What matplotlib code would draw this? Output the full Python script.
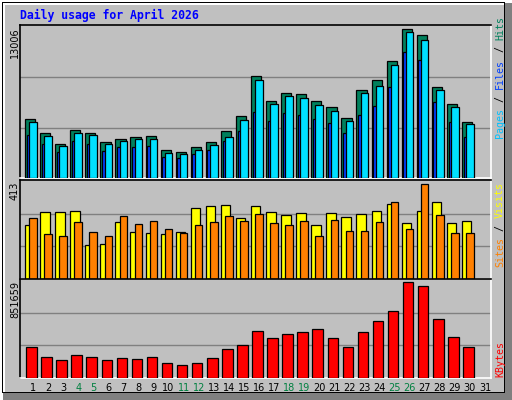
import matplotlib
matplotlib.use("Agg")
import matplotlib.pyplot as plt
from matplotlib.patches import Rectangle

days = list(range(1, 31))
hits = [5058, 3844, 2890, 4104, 3844, 3063, 3324, 3497, 3584, 2370, 2196, 2630, 3063, 4017, 5318,
        8786, 6618, 7312, 7225, 6618, 6098, 5144, 7572, 8439, 10086, 12774, 12254, 7832, 6358, 4797]
files = [4797, 3584, 2717, 3844, 3670, 2890, 3150, 3324, 3324, 2110, 2023, 2370, 2803, 3497, 4971,
         8439, 6358, 7052, 6878, 6271, 5751, 4884, 7312, 7919, 9739, 12514, 11820, 7572, 6098, 4624]
pages = [3670, 2890, 2196, 3150, 2890, 2283, 2630, 2630, 2717, 1763, 1676, 2023, 2370, 3150, 4017,
         5664, 4884, 5578, 5404, 5058, 4711, 3844, 5404, 6185, 7832, 10780, 10173, 6531, 4797, 3497]
visits = [227, 284, 284, 288, 145, 149, 241, 197, 193, 188, 197, 301, 306, 310, 258,
          306, 284, 271, 280, 227, 280, 262, 275, 288, 314, 236, 288, 323, 236, 245]
sites = [258, 188, 180, 241, 197, 180, 267, 232, 245, 210, 193, 227, 241, 267, 245,
         275, 236, 227, 245, 180, 249, 201, 201, 241, 323, 210, 401, 271, 193, 193]
kbytes = [267700, 185550, 158200, 203800, 185550, 158200, 176400, 167300, 185550, 130800,
          112500, 130800, 176400, 249400, 285900, 404600, 349800, 386300, 395400, 422800,
          349800, 267700, 395400, 495800, 578000, 833500, 797000, 514100, 358900, 267700]
max_hits, max_visits, max_kbytes = 13006, 413, 851659
weekend_days = [4, 5, 11, 12, 18, 19, 25, 26]

W, H = 512, 400
BG = "#c0c0c0"
MONO = "DejaVu Sans Mono"

fig = plt.figure(figsize=(W / 100, H / 100), dpi=100)
fig.patch.set_facecolor("white")


def frame_rect(x, y, w, h, color):
    # pixel coords from the top-left corner
    fig.add_artist(Rectangle((x / W, 1 - (y + h) / H), w / W, h / H, transform=fig.transFigure,
                             facecolor=color, edgecolor="none", zorder=-10))


frame_rect(0, 0, W, H, "white")
frame_rect(3, 3, W - 3, H - 3, "#808080")
frame_rect(2, 2, W - 9, H - 9, "black")
frame_rect(3, 3, W - 11, H - 11, "white")
frame_rect(5, 5, W - 13, H - 13, BG)

fig.text(20 / W, 1 - 15 / H, "Daily usage for April 2026", color="#0000ff", fontsize=8.3,
         family=MONO, weight="bold", va="center", ha="left")


def make_ax(top, bottom):
    ax = fig.add_axes([20 / W, 1 - bottom / H, 471 / W, (bottom - top) / H])
    ax.set_facecolor(BG)
    ax.set_xlim(0.14, 31.4)
    ax.set_xticks([])
    ax.set_yticks([])
    for side in ("top", "left"):
        ax.spines[side].set_color("black")
    for side in ("right", "bottom"):
        ax.spines[side].set_color("white")
    for s in ax.spines.values():
        s.set_linewidth(1.2)
    return ax


def bars(ax, values, left, right, color, z):
    ax.bar([d + left for d in days], values, width=right - left, align="edge",
           color=color, edgecolor="black", linewidth=0.9, zorder=z)


def grid(ax, ymax):
    ax.set_ylim(0, ymax * 1.01)
    for f in (1 / 3, 2 / 3):
        ax.axhline(ymax * f, color="#808080", linewidth=1, zorder=1)


ax1 = make_ax(25, 178)
grid(ax1, max_hits)
bars(ax1, hits, -0.53, 0.15, "#00805c", 3)
bars(ax1, pages, -0.42, 0.1, "#0040ff", 4)
bars(ax1, files, -0.25, 0.25, "#00e0ff", 5)

ax2 = make_ax(180, 279)
grid(ax2, max_visits)
bars(ax2, visits, -0.53, 0.1, "#ffff00", 3)
bars(ax2, sites, -0.25, 0.25, "#ff8000", 4)

ax3 = make_ax(279, 378)
grid(ax3, max_kbytes)
bars(ax3, kbytes, -0.45, 0.25, "#ff0000", 3)

# left max labels
for label, top in ((str(max_hits), 27), (str(max_visits), 182), (str(max_kbytes), 281)):
    fig.text(15 / W, 1 - top / H, label, rotation=90, fontsize=7, family="DejaVu Sans",
             va="top", ha="center", color="black")

# day labels
for d in range(1, 32):
    x = 20 + (d - 0.14) * 471 / 31.26
    fig.text(x / W, 1 - 388 / H, str(d), fontsize=7, family="DejaVu Sans",
             color="#008040" if d in weekend_days else "black", ha="center", va="center")


def right_label(parts, bottom):
    y = bottom
    for text, color in parts:
        fig.text(500 / W, 1 - y / H, text, rotation=90, fontsize=7.2, family=MONO,
                 color=color, ha="center", va="bottom")
        y -= 6 * len(text) + 0.5


right_label([("Pages", "#00c0ff"), (" / ", "black"), ("Files", "#0040ff"),
             (" / ", "black"), ("Hits", "#00805c")], 138)
right_label([("Sites", "#ff8000"), (" / ", "black"), ("Visits", "#ffff00")], 267)
right_label([("KBytes", "#ff0000")], 377)

fig.savefig("out.png", dpi=100, facecolor=fig.get_facecolor())
